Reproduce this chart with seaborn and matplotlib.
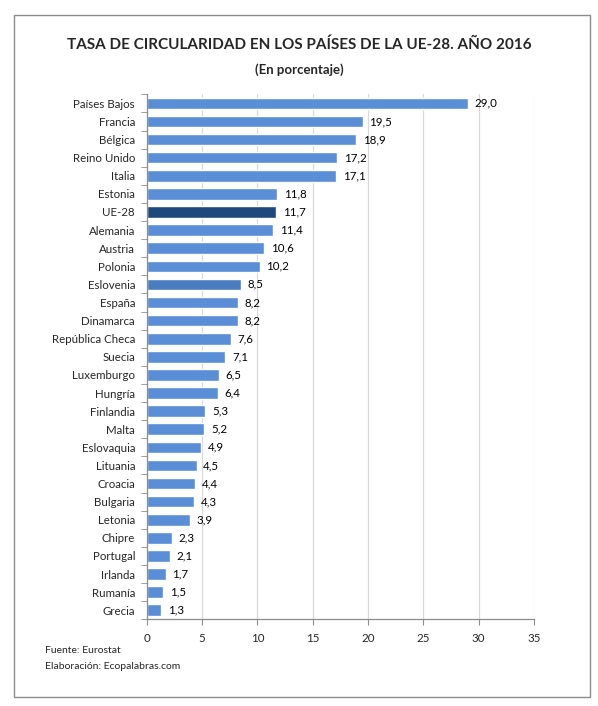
import matplotlib
matplotlib.use("Agg")
import matplotlib.pyplot as plt
import numpy as np
import pandas as pd
import seaborn as sns
from matplotlib.patches import Rectangle

sns.set_style("white")
plt.rcParams['font.family'] = ['Lato', 'DejaVu Sans']

# data
paises = ["Países Bajos", "Francia", "Bélgica", "Reino Unido", "Italia", "Estonia",
          "UE-28", "Alemania", "Austria", "Polonia", "Eslovenia", "España", "Dinamarca",
          "República Checa", "Suecia", "Luxemburgo", "Hungría", "Finlandia", "Malta",
          "Eslovaquia", "Lituania", "Croacia", "Bulgaria", "Letonia", "Chipre",
          "Portugal", "Irlanda", "Rumanía", "Grecia"]
tasa = [29.0, 19.5, 18.9, 17.2, 17.1, 11.8, 11.7, 11.4, 10.6, 10.2, 8.5, 8.2, 8.2,
        7.6, 7.1, 6.5, 6.4, 5.3, 5.2, 4.9, 4.5, 4.4, 4.3, 3.9, 2.3, 2.1, 1.7, 1.5, 1.3]

azul = "#5A8ED6"
colores = {p: azul for p in paises}
colores["UE-28"] = "#1F497D"
colores["Eslovenia"] = "#4A7DC0"

df = pd.DataFrame({"pais": paises, "tasa": tasa})

fig = plt.figure(figsize=(5.98, 7.06), dpi=100)
ax = fig.add_axes([0.2455, 0.1228, 0.6475, 0.7436])

sns.barplot(data=df, x="tasa", y="pais", hue="pais", palette=colores,
            order=paises, legend=False, width=0.64, saturation=1, ax=ax)

ax.set_xlim(0, 35)
ax.set_xticks(np.arange(0, 36, 5))
ax.set_ylim(len(paises) - 0.5, -0.5)
ax.set_xlabel("")
ax.set_ylabel("")
ax.grid(axis="x", color="#D9D9D9", linewidth=0.9)
ax.set_axisbelow(True)
for s in ["top", "right"]:
    ax.spines[s].set_visible(False)
for s in ["left", "bottom"]:
    ax.spines[s].set_color("#8C8C8C")
    ax.spines[s].set_linewidth(0.9)

ax.tick_params(axis="x", length=4, color="#8C8C8C", labelsize=8.3, pad=6,
               bottom=True, direction="out")
ax.tick_params(axis="y", length=0, labelsize=8.3, pad=8.5)
ax.set_yticks(np.arange(-0.5, len(paises), 1), minor=True)
ax.tick_params(axis="y", which="minor", length=4, color="#8C8C8C", left=True)

for i, v in enumerate(tasa):
    ax.text(v + 0.6, i, f"{v:.1f}".replace(".", ","), va="center", ha="left",
            fontsize=8.3, color="#000000")

fig.text(0.5, 0.937, "TASA DE CIRCULARIDAD EN LOS PAÍSES DE LA UE-28. AÑO 2016",
         ha="center", va="center", fontsize=11, fontweight="bold")
fig.text(0.5, 0.901, "(En porcentaje)", ha="center", va="center",
         fontsize=9.5, fontweight="bold")
fig.text(0.075, 0.078, "Fuente: Eurostat", ha="left", va="center", fontsize=7.5)
fig.text(0.075, 0.056, "Elaboración: Ecopalabras.com", ha="left", va="center", fontsize=7.5)

fig.patches.append(Rectangle((0.023, 0.013), 0.964, 0.966, transform=fig.transFigure,
                             fill=False, edgecolor="#8C8C8C", linewidth=1.0))

fig.savefig("out.png", dpi=100)
